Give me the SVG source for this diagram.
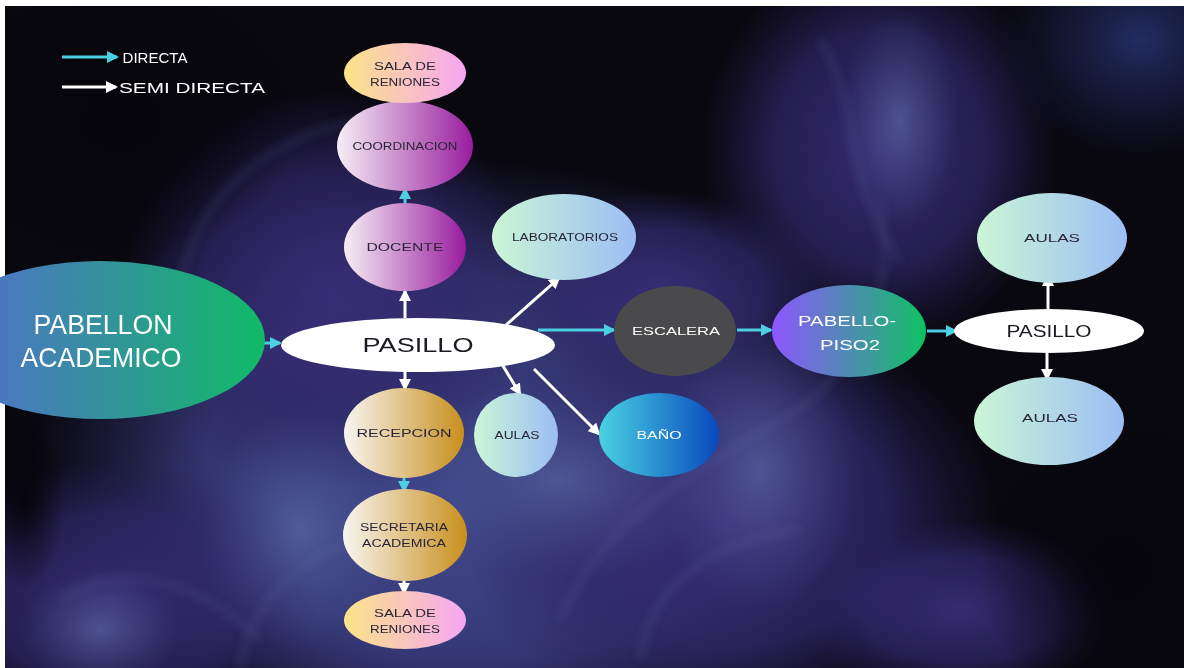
<svg xmlns="http://www.w3.org/2000/svg" width="1184" height="668" viewBox="0 0 1184 668">
<defs>
<style>
.t{font-family:"Liberation Sans","DejaVu Sans",Arial,sans-serif;text-anchor:middle;dominant-baseline:central}
.dk{fill:#2a2438;font-size:10px}
.wt{fill:#ffffff}
.cy{stroke:#4ccfe0;stroke-width:3;fill:none}
.wh{stroke:#ffffff;stroke-width:3;fill:none}
.wisp{fill:none;stroke:#6a74b4;stroke-width:6;opacity:0.18}
</style>
<clipPath id="bgclip"><rect x="5" y="6" width="1179" height="662"/></clipPath>
<filter id="soft" x="-20%" y="-20%" width="140%" height="140%"><feGaussianBlur stdDeviation="4"/></filter>
<marker id="ac" viewBox="0 0 12 12" refX="10" refY="6" markerWidth="12" markerHeight="12" markerUnits="userSpaceOnUse" orient="auto"><path d="M0,0 L12,6 L0,12 z" fill="#4ccfe0"/></marker>
<marker id="aw" viewBox="0 0 12 12" refX="10" refY="6" markerWidth="12" markerHeight="12" markerUnits="userSpaceOnUse" orient="auto"><path d="M0,0 L12,6 L0,12 z" fill="#ffffff"/></marker>
<radialGradient id="sBlue"><stop offset="0" stop-color="#40478a" stop-opacity="1"/><stop offset="0.6" stop-color="#373b7a" stop-opacity="0.9"/><stop offset="1" stop-color="#2c2c66" stop-opacity="0"/></radialGradient>
<radialGradient id="sPur"><stop offset="0" stop-color="#382d76" stop-opacity="0.95"/><stop offset="0.6" stop-color="#302769" stop-opacity="0.7"/><stop offset="1" stop-color="#261f58" stop-opacity="0"/></radialGradient>
<radialGradient id="sLight"><stop offset="0" stop-color="#6070ac" stop-opacity="0.6"/><stop offset="1" stop-color="#4a5896" stop-opacity="0"/></radialGradient>
<radialGradient id="sNavy"><stop offset="0" stop-color="#222d62" stop-opacity="1"/><stop offset="1" stop-color="#1a2250" stop-opacity="0"/></radialGradient>
<radialGradient id="sDark"><stop offset="0" stop-color="#05040a" stop-opacity="0.9"/><stop offset="1" stop-color="#05040a" stop-opacity="0"/></radialGradient>
<linearGradient id="gSala" x1="0" y1="0" x2="1" y2="0"><stop offset="0" stop-color="#fbe487"/><stop offset="1" stop-color="#f6a6f2"/></linearGradient>
<linearGradient id="gPur" x1="0" y1="0" x2="1" y2="0"><stop offset="0" stop-color="#f6eef6"/><stop offset="1" stop-color="#981c9e"/></linearGradient>
<linearGradient id="gGold" x1="0" y1="0" x2="1" y2="0"><stop offset="0" stop-color="#f8f5f0"/><stop offset="1" stop-color="#c88f1c"/></linearGradient>
<linearGradient id="gMint" x1="0" y1="0" x2="1" y2="0"><stop offset="0" stop-color="#cbf6d6"/><stop offset="1" stop-color="#9bbdf4"/></linearGradient>
<linearGradient id="gBano" x1="0" y1="0" x2="1" y2="0"><stop offset="0" stop-color="#4ad2e2"/><stop offset="1" stop-color="#0848bd"/></linearGradient>
<linearGradient id="gPab" x1="0" y1="0" x2="1" y2="0"><stop offset="0" stop-color="#5a68d6"/><stop offset="1" stop-color="#0fba66"/></linearGradient>
<linearGradient id="gPiso" x1="0" y1="0" x2="1" y2="0"><stop offset="0" stop-color="#8d56ff"/><stop offset="1" stop-color="#0fc262"/></linearGradient>
</defs>

<!-- background -->
<rect x="0" y="0" width="1184" height="6" fill="#ffffff"/>
<rect x="0" y="0" width="5" height="668" fill="#ffffff"/>
<g id="background" clip-path="url(#bgclip)">
<rect x="5" y="6" width="1179" height="662" fill="#09080f"/>
<ellipse cx="470" cy="470" rx="440" ry="310" fill="url(#sBlue)"/>
<ellipse cx="450" cy="520" rx="300" ry="200" fill="url(#sBlue)"/>
<ellipse cx="330" cy="290" rx="210" ry="200" fill="url(#sPur)"/>
<ellipse cx="110" cy="600" rx="210" ry="140" fill="url(#sPur)"/>
<ellipse cx="730" cy="520" rx="270" ry="210" fill="url(#sPur)"/>
<ellipse cx="880" cy="150" rx="180" ry="200" fill="url(#sPur)"/>
<ellipse cx="660" cy="290" rx="170" ry="100" fill="url(#sPur)"/>
<ellipse cx="1140" cy="40" rx="140" ry="120" fill="url(#sNavy)"/>
<ellipse cx="960" cy="610" rx="160" ry="90" fill="url(#sPur)"/>
<ellipse cx="560" cy="480" rx="160" ry="100" fill="url(#sLight)"/>
<ellipse cx="760" cy="470" rx="100" ry="140" fill="url(#sLight)"/>
<ellipse cx="300" cy="530" rx="100" ry="120" fill="url(#sLight)"/>
<ellipse cx="100" cy="630" rx="80" ry="60" fill="url(#sLight)"/>
<ellipse cx="900" cy="120" rx="60" ry="110" fill="url(#sLight)"/>
<ellipse cx="25" cy="500" rx="40" ry="90" fill="url(#sDark)"/>
<ellipse cx="1120" cy="570" rx="140" ry="150" fill="url(#sDark)"/>
<ellipse cx="120" cy="120" rx="180" ry="140" fill="url(#sDark)"/>
<g filter="url(#soft)">
<path class="wisp" d="M180,330 C170,220 250,140 360,120"/>
<path class="wisp" d="M560,620 C600,520 700,470 780,420 C850,380 900,300 880,200"/>
<path class="wisp" d="M640,660 C650,580 720,540 800,530"/>
<path class="wisp" d="M240,668 C250,600 300,560 360,540"/>
<path class="wisp" d="M820,40 C860,100 840,180 900,260"/>
<path class="wisp" d="M60,600 C120,560 200,580 260,640"/>
</g>
</g>

<!-- legend -->
<g id="legend">
<line x1="62" y1="57" x2="117" y2="57" class="cy" marker-end="url(#ac)"/>
<text x="155" y="57" class="t wt" font-size="15" textLength="65" lengthAdjust="spacingAndGlyphs">DIRECTA</text>
<line x1="62" y1="87" x2="116" y2="87" class="wh" marker-end="url(#aw)"/>
<text x="192" y="87" class="t wt" font-size="15" textLength="146" lengthAdjust="spacingAndGlyphs">SEMI DIRECTA</text>
</g>

<!-- connectors -->
<g id="connectors">
<line x1="227" y1="343" x2="280" y2="343" class="cy" marker-end="url(#ac)"/>
<line x1="405" y1="318" x2="405" y2="291" class="wh" marker-end="url(#aw)"/>
<line x1="405" y1="204" x2="405" y2="189" class="cy" marker-end="url(#ac)"/>
<line x1="405" y1="103" x2="405" y2="84" class="wh" marker-end="url(#aw)"/>
<line x1="405" y1="372" x2="405" y2="389" class="wh" marker-end="url(#aw)"/>
<line x1="404" y1="477" x2="404" y2="491" class="cy" marker-end="url(#ac)"/>
<line x1="404" y1="580" x2="404" y2="593" class="wh" marker-end="url(#aw)"/>
<line x1="506" y1="325" x2="559" y2="278" class="wh" marker-end="url(#aw)"/>
<line x1="500" y1="361" x2="520" y2="394" class="wh" marker-end="url(#aw)"/>
<line x1="534" y1="369" x2="599" y2="434" class="wh" marker-end="url(#aw)"/>
<line x1="538" y1="330" x2="614" y2="330" class="cy" marker-end="url(#ac)"/>
<line x1="737" y1="330" x2="771" y2="330" class="cy" marker-end="url(#ac)"/>
<line x1="927" y1="331" x2="956" y2="331" class="cy" marker-end="url(#ac)"/>
<line x1="1048" y1="309" x2="1048" y2="276" class="wh" marker-end="url(#aw)"/>
<line x1="1047" y1="352" x2="1047" y2="379" class="wh" marker-end="url(#aw)"/>
</g>

<!-- nodes -->
<g id="pabellon-academico">
<ellipse cx="100" cy="340" rx="165" ry="79" fill="url(#gPab)"/>
<text x="103" y="324" class="t wt" font-size="28" textLength="139" lengthAdjust="spacingAndGlyphs">PABELLON</text>
<text x="101" y="357" class="t wt" font-size="28" textLength="161" lengthAdjust="spacingAndGlyphs">ACADEMICO</text>
</g>
<g id="pasillo">
<ellipse cx="418" cy="345" rx="137" ry="27" fill="#ffffff"/>
<text x="418" y="345" class="t" fill="#1a1a22" font-size="20" textLength="111" lengthAdjust="spacingAndGlyphs">PASILLO</text>
</g>
<g id="docente">
<ellipse cx="405" cy="247" rx="61" ry="44" fill="url(#gPur)"/>
<text x="405" y="247" class="t dk" textLength="77" lengthAdjust="spacingAndGlyphs">DOCENTE</text>
</g>
<g id="coordinacion">
<ellipse cx="405" cy="146" rx="68" ry="45" fill="url(#gPur)"/>
<text x="405" y="146" class="t dk" textLength="105" lengthAdjust="spacingAndGlyphs">COORDINACION</text>
</g>
<g id="sala-reniones-top">
<ellipse cx="405" cy="73" rx="61" ry="30" fill="url(#gSala)"/>
<text x="405" y="66" class="t dk" textLength="62" lengthAdjust="spacingAndGlyphs">SALA DE</text>
<text x="405" y="82" class="t dk" textLength="70" lengthAdjust="spacingAndGlyphs">RENIONES</text>
</g>
<g id="recepcion">
<ellipse cx="404" cy="433" rx="60" ry="45" fill="url(#gGold)"/>
<text x="404" y="433" class="t dk" textLength="95" lengthAdjust="spacingAndGlyphs">RECEPCION</text>
</g>
<g id="secretaria-academica">
<ellipse cx="405" cy="535" rx="62" ry="46" fill="url(#gGold)"/>
<text x="404" y="527" class="t dk" textLength="88" lengthAdjust="spacingAndGlyphs">SECRETARIA</text>
<text x="404" y="543" class="t dk" textLength="84" lengthAdjust="spacingAndGlyphs">ACADEMICA</text>
</g>
<g id="sala-reniones-bottom">
<ellipse cx="405" cy="620" rx="61" ry="29" fill="url(#gSala)"/>
<text x="405" y="613" class="t dk" textLength="62" lengthAdjust="spacingAndGlyphs">SALA DE</text>
<text x="405" y="629" class="t dk" textLength="70" lengthAdjust="spacingAndGlyphs">RENIONES</text>
</g>
<g id="laboratorios">
<ellipse cx="564" cy="237" rx="72" ry="43" fill="url(#gMint)"/>
<text x="565" y="237" class="t dk" textLength="106" lengthAdjust="spacingAndGlyphs">LABORATORIOS</text>
</g>
<g id="aulas-mid">
<ellipse cx="516" cy="435" rx="42" ry="42" fill="url(#gMint)"/>
<text x="517" y="435" class="t dk" font-size="11" textLength="45" lengthAdjust="spacingAndGlyphs">AULAS</text>
</g>
<g id="bano">
<ellipse cx="659" cy="435" rx="60" ry="42" fill="url(#gBano)"/>
<text x="659" y="435" class="t wt" font-size="11" textLength="45" lengthAdjust="spacingAndGlyphs">BAÑO</text>
</g>
<g id="escalera">
<ellipse cx="675" cy="331" rx="61" ry="45" fill="#4a4a4c"/>
<text x="676" y="331" class="t wt" font-size="11" textLength="88" lengthAdjust="spacingAndGlyphs">ESCALERA</text>
</g>
<g id="pabello-piso2">
<ellipse cx="849" cy="331" rx="77" ry="46" fill="url(#gPiso)"/>
<text x="847" y="320" class="t wt" font-size="15" textLength="98" lengthAdjust="spacingAndGlyphs">PABELLO-</text>
<text x="850" y="344" class="t wt" font-size="15" textLength="60" lengthAdjust="spacingAndGlyphs">PISO2</text>
</g>
<g id="pasillo-2">
<ellipse cx="1049" cy="331" rx="95" ry="22" fill="#ffffff"/>
<text x="1049" y="331" class="t" fill="#1a1a22" font-size="16" textLength="85" lengthAdjust="spacingAndGlyphs">PASILLO</text>
</g>
<g id="aulas-top">
<ellipse cx="1052" cy="238" rx="75" ry="45" fill="url(#gMint)"/>
<text x="1052" y="238" class="t dk" font-size="11" textLength="56" lengthAdjust="spacingAndGlyphs">AULAS</text>
</g>
<g id="aulas-bottom">
<ellipse cx="1049" cy="421" rx="75" ry="44" fill="url(#gMint)"/>
<text x="1050" y="418" class="t dk" font-size="11" textLength="56" lengthAdjust="spacingAndGlyphs">AULAS</text>
</g>
</svg>
